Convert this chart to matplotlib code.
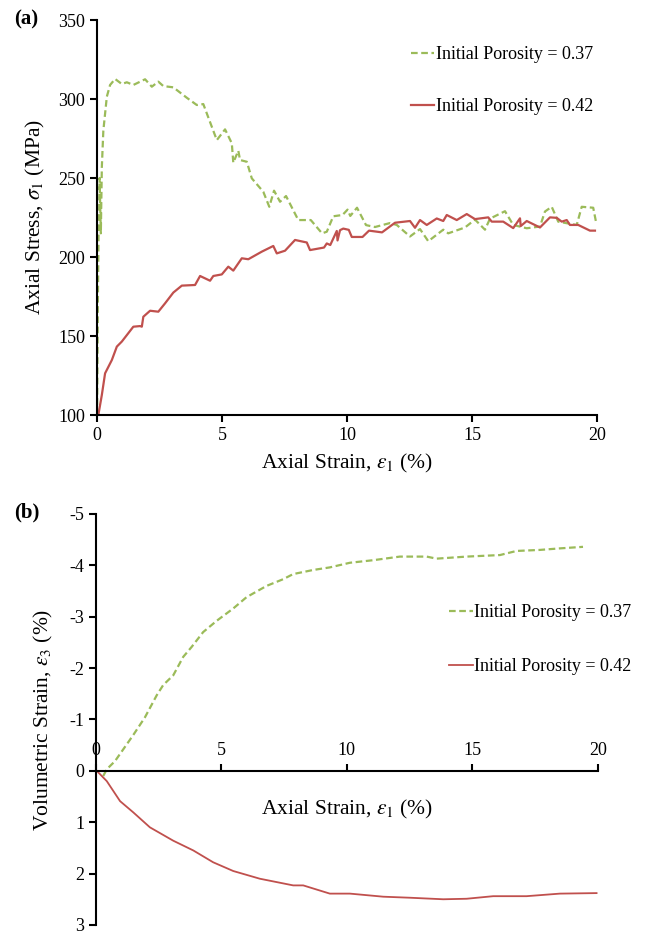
import numpy as np
import matplotlib.pyplot as plt

# estilo general
plt.rcParams['font.family'] = ['Liberation Serif', 'DejaVu Serif']
plt.rcParams['mathtext.fontset'] = 'stix'
plt.rcParams['axes.unicode_minus'] = False

green = '#9BBB59'
red = '#C0504D'

# (a) esfuerzo axial vs deformacion axial
strain_a_37 = [0, 0.03, 0.06, 0.08, 0.10, 0.12, 0.15, 0.19, 0.25, 0.39, 0.52, 0.72, 0.99, 1.19, 1.45,
               1.92, 2.19, 2.45, 2.65, 3.05, 3.59, 3.99, 4.25, 4.79, 5.12, 5.39, 5.45, 5.65, 5.72,
               5.99, 6.19, 6.65, 6.89, 7.08, 7.32, 7.56, 8.05, 8.55, 9.0, 9.19, 9.45, 9.82, 10.02,
               10.13, 10.4, 10.76, 11.12, 11.72, 11.99, 12.52, 12.92, 13.25, 13.85, 14.05, 14.72,
               15.12, 15.52, 15.72, 16.32, 16.65, 17.19, 17.72, 17.92, 18.19, 18.45, 18.79, 19.19,
               19.39, 19.85, 19.96]
stress_a_37 = [100, 170, 215, 225, 250, 236, 215, 257, 280, 301.5, 308.9, 312.7, 309.5, 310.6, 308.9,
               312.5, 307.8, 311, 308.2, 307.4, 300.8, 296.2, 296.8, 274, 280.8, 272, 259.7, 267.3, 261.4,
               260.3, 249.8, 241.3, 231.8, 242, 235, 238.6, 223.4, 223.4, 215, 216, 225.8, 226.6, 230,
               226, 231.2, 220.2, 219, 221.5, 220.3, 213, 217.7, 210, 217.3, 215, 218.7,
               223.7, 217.3, 224.3, 229, 220.3, 218.2, 219.3, 228.8, 231.8, 222.4, 221.4, 220.3,
               231.8, 231.2, 222.4]

strain_a_42 = [0.05, 0.19, 0.32, 0.59, 0.79, 0.99, 1.45, 1.72, 1.79, 1.85, 2.12, 2.45, 2.72, 3.05, 3.39,
               3.92, 4.12, 4.52, 4.65, 4.99, 5.25, 5.45, 5.79, 6.05, 6.59, 7.05, 7.19, 7.52, 7.92,
               8.39, 8.52, 9.08, 9.19, 9.33, 9.59, 9.62, 9.72, 9.85, 10.07, 10.19, 10.62, 10.88,
               11.4, 11.92, 12.52, 12.72, 12.92, 13.19, 13.59, 13.85, 13.99, 14.39, 14.79, 15.12,
               15.65, 15.79, 16.25, 16.65, 16.92, 16.95, 17.19, 17.72, 18.12, 18.39, 18.59, 18.79,
               18.92, 19.25, 19.72, 19.92]
stress_a_42 = [100, 112.7, 126.4, 134.8, 143.3, 146.5, 155.9, 156.3, 155.9, 162.2, 166, 165.4, 170.7, 177.5, 181.9,
               182.3, 188, 185, 188, 189, 193.9, 191.4, 199.2, 198.6, 203.4, 207, 202.3, 204, 210.8,
               209.2, 204.4, 206, 208.6, 207.6, 216.5, 210.5, 217, 218, 217.2, 212.7, 212.7, 216.7,
               215.6, 221.7, 222.8, 218.5, 223.4, 220.3, 224.4, 222.8, 226.6, 223.4, 227.2, 224,
               225.1, 222.4, 222.4, 218.3, 224.5, 219.6, 222.8, 218.7, 225.1, 224.8, 222.4, 223.4,
               220.3, 220.3, 216.7, 216.7]

# (b) deformacion volumetrica vs deformacion axial
strain_b_37 = [0.29, 0.43, 0.76, 1.49, 1.95, 2.42, 2.68, 3.08, 3.48, 3.81, 4.27, 4.81, 5.47, 6.0,
               6.8, 7.46, 7.86, 8.66, 9.32, 10.12, 11.05, 12.11, 13.18, 13.57, 14.77, 16.1, 16.76,
               17.69, 18.49, 19.41]
vol_b_37 = [0.1, -0.03, -0.19, -0.7, -1.04, -1.47, -1.67, -1.86, -2.22, -2.41, -2.70, -2.92, -3.16, -3.38,
            -3.6, -3.73, -3.83, -3.91, -3.96, -4.05, -4.10, -4.17, -4.17, -4.13, -4.17, -4.2, -4.28,
            -4.30, -4.33, -4.36]

strain_b_42 = [0.03, 0.43, 0.96, 1.49, 2.15, 3.08, 3.88, 4.67, 5.47, 6.53, 7.86, 8.26, 9.32, 10.12,
               11.45, 12.51, 13.84, 14.77, 15.83, 17.16, 18.49, 19.95]
vol_b_42 = [0, 0.2, 0.59, 0.81, 1.10, 1.36, 1.55, 1.78, 1.95, 2.10, 2.23, 2.23, 2.39, 2.39,
            2.45, 2.47, 2.50, 2.49, 2.44, 2.44, 2.39, 2.38]

labels = ['Initial Porosity = 0.37', 'Initial Porosity = 0.42']

fig = plt.figure(figsize=(6.56, 9.36), dpi=100)

#---- panel (a)
ax1 = fig.add_axes([0.148, 0.5566, 0.762, 0.422])
ax1.plot(strain_a_37, stress_a_37, color=green, lw=1.6, ls=(0, (3, 1.6)), label=labels[0])
ax1.plot(strain_a_42, stress_a_42, color=red, lw=1.6, label=labels[1])
ax1.set_xlim(0, 20)
ax1.set_ylim(100, 350)
ax1.set_xticks([0, 5, 10, 15, 20])
ax1.set_yticks([100, 150, 200, 250, 300, 350])
for s in ['top', 'right']:
    ax1.spines[s].set_visible(False)
for s in ['left', 'bottom']:
    ax1.spines[s].set_linewidth(1.5)
ax1.tick_params(direction='out', length=5, width=1.5, labelsize=13)
ax1.set_xlabel(r'Axial Strain, $\varepsilon_1$ (%)', fontsize=15.5, labelpad=6)
ax1.set_ylabel(r'Axial Stress, $\sigma_1$ (MPa)', fontsize=15.5, labelpad=8)
ax1.legend(loc='upper right', bbox_to_anchor=(1.025, 0.975), frameon=False, fontsize=13,
           handlelength=1.3, handletextpad=0.1, labelspacing=1.95)

#---- panel (b)
ax2 = fig.add_axes([0.1463, 0.0118, 0.765, 0.4391])
ax2.plot(strain_b_37, vol_b_37, color=green, lw=1.6, ls=(0, (3, 1.6)), label=labels[0])
ax2.plot(strain_b_42, vol_b_42, color=red, lw=1.3, label=labels[1])
ax2.set_xlim(0, 20)
ax2.set_ylim(3, -5)
ax2.set_xticks([0, 5, 10, 15, 20])
ax2.set_yticks([-5, -4, -3, -2, -1, 0, 1, 2, 3])
ax2.spines['right'].set_visible(False)
ax2.spines['bottom'].set_visible(False)
ax2.spines['top'].set_position(('data', 0))
ax2.spines['top'].set_linewidth(1.5)
ax2.spines['left'].set_linewidth(1.5)
ax2.xaxis.tick_top()
ax2.tick_params(direction='out', length=5, width=1.5, labelsize=13)
ax2.text(10, 0.75, r'Axial Strain, $\varepsilon_1$ (%)', fontsize=15.5, ha='center', va='center')
ax2.set_ylabel(r'Volumetric Strain, $\varepsilon_3$ (%)', fontsize=15.5, labelpad=10)
ax2.legend(loc='upper right', bbox_to_anchor=(1.1, 0.82), frameon=False, fontsize=13,
           handlelength=1.3, handletextpad=0.1, labelspacing=2.05)

fig.text(0.022, 0.979, '(a)', fontsize=15, fontweight='bold', va='center')
fig.text(0.022, 0.452, '(b)', fontsize=15, fontweight='bold', va='center')

plt.savefig('out.png', dpi=100)
